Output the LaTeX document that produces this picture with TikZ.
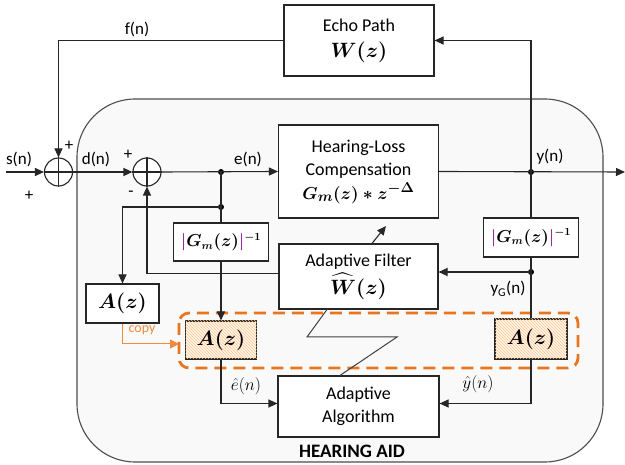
\documentclass[tikz,border=0pt]{standalone}
\usepackage{amsmath}
\usepackage{fontspec}
\setmainfont{Carlito}
\usetikzlibrary{arrows.meta,patterns,calc}
\definecolor{dorange}{HTML}{E8761E}
\definecolor{lorange}{HTML}{F08A3C}
\definecolor{gpurple}{HTML}{9A2C9A}
\newcommand{\pbar}{{\color{gpurple}\vert}}
\newcommand{\gminvtext}{{\boldmath\fontsize{16}{18}\selectfont $\pbar G_m(z)\pbar^{-1}$}}
\newcommand{\azbig}{{\boldmath\fontsize{21}{23}\selectfont $A(z)$}}
\tikzset{
  blk/.style={draw=black!85, line width=1.1pt, fill=white, inner sep=0pt, align=center, font=\fontsize{18}{23}\selectfont},
  hatched/.style={draw=black!85, line width=1.1pt, fill=orange!8, inner sep=0pt, postaction={pattern=north west lines, pattern color=orange!45}},
  sumc/.style={draw=black!85, line width=1.1pt, circle, minimum size=28pt, inner sep=0pt, fill=white},
  wire/.style={draw=black!85, line width=1.1pt},
  arr/.style={wire, -{Triangle[length=9pt,width=8pt]}},
  lbl/.style={font=\fontsize{17}{19}\selectfont, inner sep=0pt},
  mlbl/.style={font=\fontsize{19}{21}\selectfont, inner sep=0pt},
  dotc/.style={circle, fill=black, inner sep=0pt, minimum size=6pt},
}
\begin{document}
\begin{tikzpicture}[x=1pt,y=-1pt]
\useasboundingbox (0,0) rectangle (625,465);
% hearing aid background
\draw[rounded corners=58pt, fill=gray!5, draw=black!70, line width=1.1pt] (77,99) rectangle (603,462);
\node[font=\fontsize{19}{21}\selectfont\bfseries] (ha) at (352,451) {HEARING AID};
% dashed orange group
\draw[dorange, line width=2.8pt, dash pattern=on 12pt off 7pt, rounded corners=10pt] (179,313) rectangle (578,368);
\coordinate (grpw) at (179,344);
% blocks
\node[blk, minimum width=150pt, minimum height=71pt] (echo) at (359,40.5) {Echo Path\\[3pt] {\boldmath\fontsize{21}{23}\selectfont $W(z)$}};
\node[blk, minimum width=160pt, minimum height=93pt] (hlc) at (358.5,171.5) {Hearing-Loss\\ Compensation\\[1pt] {\boldmath\fontsize{19}{21}\selectfont $G_m(z)*z^{-\Delta}$}};
\node[blk, minimum width=159pt, minimum height=65pt] (af) at (358.5,276.5) {Adaptive Filter\\[3pt] {\boldmath\fontsize{20}{22}\selectfont $\widehat{W}(z)$}};
\node[blk, minimum width=161pt, minimum height=61pt] (aa) at (358.5,406.5) {Adaptive\\ Algorithm};
\node[blk, minimum width=95pt, minimum height=38pt] (gl) at (221,242) {\gminvtext};
\node[blk, minimum width=95pt, minimum height=39pt] (gr) at (531,237.5) {\gminvtext};
\node[blk, minimum width=73pt, minimum height=39pt] (al) at (122.5,303.5) {\azbig};
\node[hatched, minimum width=71pt, minimum height=38pt] (hl) at (221,340) {};
\node (hlt) at (hl) {\azbig};
\node[hatched, minimum width=72pt, minimum height=40pt] (hr) at (531,339) {};
\node (hrt) at (hr) {\azbig};
% summers
\node[sumc] (s1) at (58.5,172) {};
\draw[wire] (s1.north) -- (s1.south) (s1.west) -- (s1.east);
\node[sumc] (s2) at (147,172) {};
\draw[wire] (s2.north) -- (s2.south) (s2.west) -- (s2.east);
% coordinates
\coordinate (in) at (6,172);
\coordinate (out) at (625,172);
\node[dotc] (e1) at (221,172) {};
\node[dotc] (e2) at (221,207) {};
\node[dotc] (y1) at (531,172) {};
\node[dotc] (yg) at (531,272) {};
\coordinate (adtip) at (386,226);
\coordinate (zz1) at (397,337);
\coordinate (zz2) at (307,337);
% connectors
\draw[arr] (in) -- (s1.west);
\draw[arr] (s1.east) -- (s2.west);
\draw[arr] (s2.east) -- (hlc.west);
\draw[arr] (hlc.east) -- (out);
\draw[arr] (y1.center) |- (echo.east);
\draw[arr] (echo.west) -| (s1.north);
\draw[wire] (y1.center) -- (gr.north);
\draw[wire] (gr.south) -- (yg.center);
\draw[arr] (yg.center) -- (yg.center -| af.east);
\draw[wire] (yg.center) -- (hr.north);
\draw[arr] (hr.south) |- ($(aa.east)+(0,-3)$);
\draw[wire] (e1.center) -- (e2.center);
\draw[wire] (e2.center) -- (gl.north);
\draw[arr] (e2.center) -| (al.north);
\draw[arr] ($(af.west)+(0,-3)$) -| (s2.south);
\draw[arr] (gl.south) -- (hl.north);
\draw[arr] (hl.south) |- ($(aa.west)+(0,-3)$);
\draw[lorange, line width=1pt, -{Triangle[length=9pt,width=9pt]}] (al.south) |- (grpw);
\draw[black!75, line width=1pt] ($(aa.north)+(-18.5,0)$) -- (zz1) -- (zz2) -- ($(af.south)+(-31.5,0)$);
\draw[arr] ($(af.north)+(13.5,0)$) -- (adtip);
% labels
\node[lbl] at (19,159) {s(n)};
\node[lbl] at (29,196) {+};
\node[lbl] at (69,146) {+};
\node[lbl] at (96,159) {d(n)};
\node[lbl] at (128,155) {+};
\node[lbl] at (131,194) {-};
\node[lbl] at (248,159) {e(n)};
\node[lbl] at (550,157) {y(n)};
\node[lbl] at (137,29) {f(n)};
\node[lbl] at (508,289) {y\textsubscript{G}(n)};
\node[mlbl] at (246,386) {$\hat{e}(n)$};
\node[mlbl] at (478,384) {$\hat{y}(n)$};
\node[lbl, text=lorange, font=\fontsize{14}{16}\selectfont] at (142,330) {copy};
\end{tikzpicture}
\end{document}
